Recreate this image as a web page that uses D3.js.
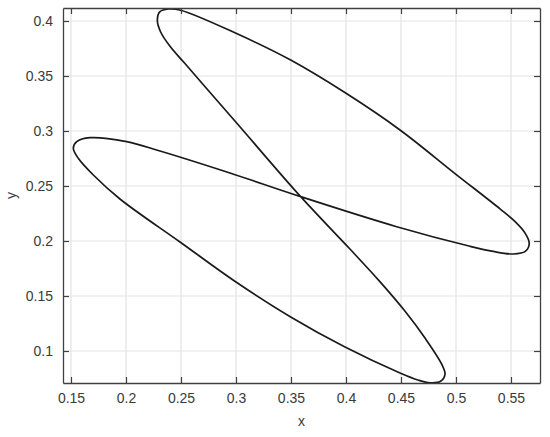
<!DOCTYPE html>
<html>
<head>
<meta charset="utf-8">
<script src="https://d3js.org/d3.v7.min.js"></script>
<style>
  body { margin: 0; background: #fff; }
  text { font-family: "Liberation Sans", Arial, sans-serif; }
</style>
</head>
<body>
<div id="chart"></div>
<script>
// closed curve (x values, y values in the same order)
var curveX = [0.2285, 0.2315, 0.2400, 0.2530, 0.2703, 0.3006, 0.3588, 0.4036, 0.4300, 0.4530, 0.4718, 0.4870,
  0.4900, 0.4860, 0.4764, 0.4655, 0.4491, 0.3991, 0.3497, 0.3000, 0.2491, 0.1945, 0.1703, 0.1566,
  0.1521, 0.1552, 0.1673, 0.2006, 0.2309, 0.2945, 0.3588, 0.4461, 0.5127, 0.5339, 0.5521, 0.5630, 0.5666,
  0.5628, 0.5535, 0.5400, 0.4991, 0.4497, 0.3997, 0.3497, 0.3000, 0.2497, 0.2385, 0.2309];
var curveY = [0.4009, 0.3900, 0.3770, 0.3620, 0.3421, 0.3073, 0.2403, 0.1927, 0.1640, 0.1370, 0.1118, 0.0880,
  0.0790, 0.0725, 0.0711, 0.0736, 0.0800, 0.1036, 0.1309, 0.1627, 0.1991, 0.2382, 0.2600, 0.2752,
  0.2843, 0.2903, 0.2939, 0.2903, 0.2818, 0.2618, 0.2403, 0.2130, 0.1952, 0.1905, 0.1882, 0.1905, 0.1979,
  0.2072, 0.2178, 0.2292, 0.2613, 0.3005, 0.3345, 0.3645, 0.3888, 0.4098, 0.4109, 0.4085];

var xTicks = [0.15, 0.2, 0.25, 0.3, 0.35, 0.4, 0.45, 0.5, 0.55];
var yTicks = [0.1, 0.15, 0.2, 0.25, 0.3, 0.35, 0.4];
var xLimits = [0.142727, 0.576364];
var yLimits = [0.070909, 0.411818];

var margin = {top: 8, right: 10, bottom: 54, left: 63},
    width = 550 - margin.left - margin.right,
    height = 437 - margin.top - margin.bottom;

var svg = d3.select("#chart")
  .append("svg")
    .attr("width", 550)
    .attr("height", 437);

var g = svg.append("g")
    .attr("transform", "translate(" + margin.left + "," + margin.top + ")");

var x = d3.scaleLinear().domain(xLimits).range([0, width]);
var y = d3.scaleLinear().domain(yLimits).range([height, 0]);

var fmt = function(d) { return String(+d.toFixed(2)); };

// grid lines
g.append("g")
  .selectAll("line.vg")
  .data(xTicks)
  .enter().append("line")
    .attr("x1", function(d) { return x(d); })
    .attr("x2", function(d) { return x(d); })
    .attr("y1", 0).attr("y2", height)
    .style("stroke", "#e3e3e3").style("stroke-width", 1.2);
g.append("g")
  .selectAll("line.hg")
  .data(yTicks)
  .enter().append("line")
    .attr("y1", function(d) { return y(d); })
    .attr("y2", function(d) { return y(d); })
    .attr("x1", 0).attr("x2", width)
    .style("stroke", "#e3e3e3").style("stroke-width", 1.2);

// the curve
var line = d3.line()
  .x(function(d, i) { return x(curveX[i]); })
  .y(function(d, i) { return y(curveY[i]); })
  .curve(d3.curveCatmullRomClosed.alpha(0.5));

g.append("path")
  .attr("d", line(curveX))
  .style("fill", "none")
  .style("stroke", "#1a1a1a")
  .style("stroke-width", 1.7);

// axes on all four sides, ticks pointing in
var axisColor = "#404040";
function styleAxis(sel) {
  sel.select(".domain").style("stroke", axisColor).style("stroke-width", 1.3);
  sel.selectAll(".tick line").style("stroke", axisColor).style("stroke-width", 1.2);
  sel.selectAll(".tick text")
    .style("fill", "#3a3a3a")
    .style("font-size", "14px")
    .style("font-family", "Liberation Sans, Arial, sans-serif");
}

var xAxis = g.append("g")
  .attr("transform", "translate(0," + height + ")")
  .call(d3.axisBottom(x).tickValues(xTicks).tickFormat(fmt).tickSizeInner(-6).tickSizeOuter(0).tickPadding(10));
styleAxis(xAxis);

var yAxis = g.append("g")
  .call(d3.axisLeft(y).tickValues(yTicks).tickFormat(fmt).tickSizeInner(-6).tickSizeOuter(0).tickPadding(10));
styleAxis(yAxis);

var topAxis = g.append("g")
  .call(d3.axisTop(x).tickValues(xTicks).tickFormat("").tickSizeInner(-6).tickSizeOuter(0));
styleAxis(topAxis);

var rightAxis = g.append("g")
  .attr("transform", "translate(" + width + ",0)")
  .call(d3.axisRight(y).tickValues(yTicks).tickFormat("").tickSizeInner(-6).tickSizeOuter(0));
styleAxis(rightAxis);

// axis labels
svg.append("text")
  .attr("x", margin.left + width / 2)
  .attr("y", 426)
  .attr("text-anchor", "middle")
  .style("font-size", "14px")
  .style("fill", "#3a3a3a")
  .text("x");

svg.append("text")
  .attr("transform", "translate(16," + (margin.top + height / 2) + ") rotate(-90)")
  .attr("text-anchor", "middle")
  .style("font-size", "14px")
  .style("fill", "#3a3a3a")
  .text("y");
</script>
</body>
</html>
